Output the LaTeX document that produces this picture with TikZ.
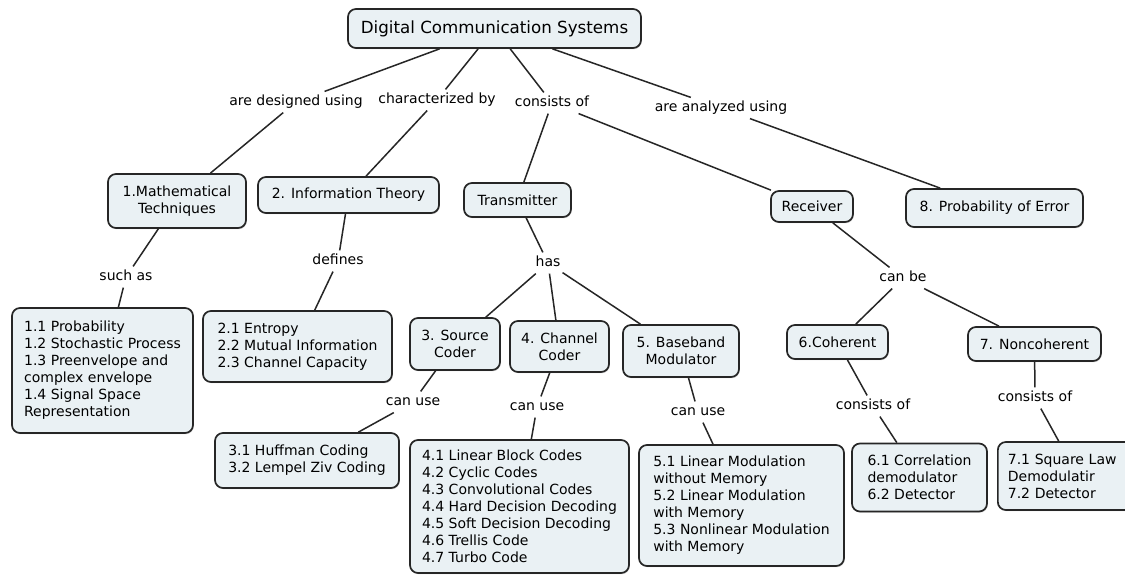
\documentclass[tikz,border=0pt]{standalone}
\usepackage{fontspec}
\setmainfont{DejaVu Sans}
\usetikzlibrary{shadows}
\definecolor{boxfill}{RGB}{234,241,244}
\definecolor{ink}{RGB}{38,38,38}
\tikzset{
  concept/.style={draw=ink, line width=1.7pt, fill=boxfill, rounded corners=8pt,
    inner xsep=8pt, inner ysep=4pt, align=center,
    font=\fontsize{14}{17}\selectfont,
    drop shadow={shadow xshift=0.8pt, shadow yshift=-1.2pt, fill=black!35}},
  listbox/.style={concept, align=left},
  linkword/.style={inner xsep=2pt, inner ysep=3.5pt,
    font=\fontsize{14}{17}\selectfont, text height=10.5pt, text depth=3.3pt},
  link/.style={draw=ink, line width=1.5pt},
}
\begin{document}
\begin{tikzpicture}[x=1pt,y=-1pt]
\useasboundingbox (0,0) rectangle (1125,575);
\clip (0,0) rectangle (1125,575);
\fill[white] (0,0) rectangle (1125,575);

% concepts
\node[concept, minimum width=293pt, minimum height=39pt, font=\fontsize{16.7}{19}\selectfont] (root) at (494.5,28.5) {Digital Communication Systems};
\node[concept, minimum width=138pt, minimum height=54pt] (math) at (177,201) {1.Mathematical\\Techniques};
\node[concept, minimum width=181pt, minimum height=36pt] (info) at (348.5,195) {2. Information Theory};
\node[concept, minimum width=107pt, minimum height=34pt] (trans) at (517.5,200) {Transmitter};
\node[concept, minimum width=82pt, minimum height=31pt] (recv) at (812,206.5) {Receiver};
\node[concept, minimum width=177pt, minimum height=38pt] (prob) at (994.5,208) {8. Probability of Error};

\node[concept, minimum width=90pt, minimum height=52pt] (src) at (455,344) {3. Source\\Coder};
\node[concept, minimum width=99pt, minimum height=51pt] (chan) at (559.5,346.5) {4. Channel\\Coder};
\node[concept, minimum width=116pt, minimum height=52pt] (base) at (681,351) {5. Baseband\\Modulator};
\node[concept, minimum width=101pt, minimum height=34pt] (coh) at (837.5,342) {6.Coherent};
\node[concept, minimum width=133pt, minimum height=34pt] (nonc) at (1034.5,344) {7. Noncoherent};

\node[listbox, minimum width=181pt, minimum height=125pt] (b11) at (102.5,370.5)
  {1.1 Probability\\1.2 Stochastic Process\\1.3 Preenvelope and\\complex envelope\\1.4 Signal Space\\Representation};
\node[listbox, minimum width=189pt, minimum height=71pt] (b21) at (297.5,346.5)
  {2.1 Entropy\\2.2 Mutual Information\\2.3 Channel Capacity};
\node[listbox, minimum width=184pt, minimum height=55pt] (b31) at (307,460.5)
  {3.1 Huffman Coding\\3.2 Lempel Ziv Coding};
\node[listbox, minimum width=219pt, minimum height=133pt] (b41) at (519.5,506.5)
  {4.1 Linear Block Codes\\4.2 Cyclic Codes\\4.3 Convolutional Codes\\4.4 Hard Decision Decoding\\4.5 Soft Decision Decoding\\4.6 Trellis Code\\4.7 Turbo Code};
\node[listbox, minimum width=205pt, minimum height=121pt] (b51) at (741.5,505.5)
  {5.1 Linear Modulation\\without Memory\\5.2 Linear Modulation\\with Memory\\5.3 Nonlinear Modulation\\with Memory};
\node[listbox, minimum width=135pt, minimum height=68pt] (b61) at (919.5,477.5)
  {6.1 Correlation\\demodulator\\6.2 Detector};
\node[listbox, anchor=west, text width=140pt, inner xsep=10pt, minimum height=68pt] (b71) at (997,476)
  {7.1 Square Law\\Demodulatir\\7.2 Detector};

% linking phrases
\node[linkword] (ldes) at (296,102) {are designed using};
\node[linkword] (lchar) at (437,100) {characterized by};
\node[linkword] (lcons) at (552,103) {consists of};
\node[linkword] (lanal) at (721,108) {are analyzed using};
\node[linkword] (lsuch) at (126,277) {such as};
\node[linkword] (ldef) at (338,261) {defines};
\node[linkword] (lhas) at (548,263) {has};
\node[linkword] (lcanbe) at (903,278) {can be};
\node[linkword] (luse1) at (413,402) {can use};
\node[linkword] (luse2) at (537,407) {can use};
\node[linkword] (luse3) at (698,412) {can use};
\node[linkword] (lcons6) at (873,406) {consists of};
\node[linkword] (lcons7) at (1035,398) {consists of};

% connectors
\draw[link] (root) -- (ldes);  \draw[link] (ldes) -- (math);
\draw[link] (root) -- (lchar); \draw[link] (lchar) -- (info);
\draw[link] (root) -- (lcons); \draw[link] (lcons) -- (trans); \draw[link] (lcons) -- (recv);
\draw[link] (root) -- (lanal); \draw[link] (lanal) -- (prob);
\draw[link] (math) -- (lsuch); \draw[link] (lsuch) -- (b11);
\draw[link] (info) -- (ldef);  \draw[link] (ldef) -- (b21);
\draw[link] (trans) -- (lhas);
\draw[link] (lhas) -- (src); \draw[link] (lhas) -- (chan); \draw[link] (lhas) -- (base);
\draw[link] (recv) -- (lcanbe);
\draw[link] (lcanbe) -- (coh); \draw[link] (lcanbe) -- (nonc);
\draw[link] (src) -- (luse1);  \draw[link] (luse1) -- (b31);
\draw[link] (chan) -- (luse2); \draw[link] (luse2) -- (b41);
\draw[link] (base) -- (luse3); \draw[link] (luse3) -- (b51);
\draw[link] (coh) -- (lcons6); \draw[link] (lcons6) -- (b61);
\draw[link] (nonc) -- (lcons7); \draw[link] (lcons7) -- (b71);
\end{tikzpicture}
\end{document}
